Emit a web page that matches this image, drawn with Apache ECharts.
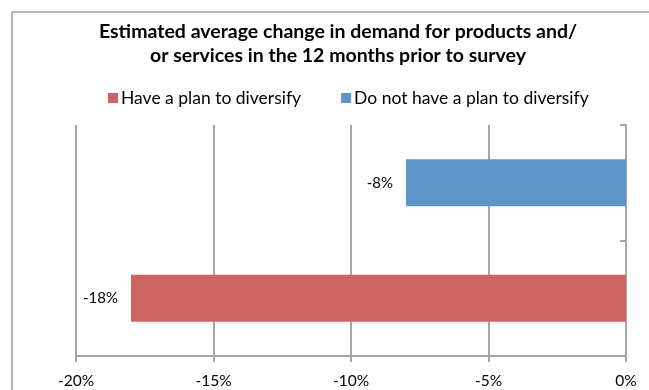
<!DOCTYPE html>
<html>
<head>
<meta charset="utf-8">
<script src="https://cdn.jsdelivr.net/npm/echarts@6/dist/echarts.min.js"></script>
<style>
  html, body { margin: 0; padding: 0; background: #fff; }
  #chart { width: 649px; height: 390px; }
</style>
</head>
<body>
<div id="chart"></div>
<script>
// Survey groups (bottom to top on the category axis)
const categories = ['Have a plan to diversify', 'Do not have a plan to diversify'];
// Estimated average change in demand, in percent
const planValues = [-18, null];
const noPlanValues = [null, -8];
// Value axis range and tick spacing (percent)
const axisMin = -20;
const axisMax = 0;
const axisStep = 5;

const FONT = 'Lato, "Open Sans", sans-serif';
const GRID_COLOR = '#a6a6a6';

const barLabel = {
  show: true,
  position: 'left',
  distance: 13,
  formatter: p => p.value + '%',
  fontFamily: FONT,
  fontSize: 15,
  color: '#000'
};

const chart = echarts.init(document.getElementById('chart'));
chart.setOption({
  animation: false,
  backgroundColor: '#fff',
  textStyle: { fontFamily: FONT },
  graphic: [{
    type: 'rect',
    shape: { x: 12, y: 12, width: 800, height: 600 },
    style: { fill: 'none', stroke: '#a0a0a0', lineWidth: 1.5 },
    silent: true,
    z: -1
  }],
  title: {
    text: 'Estimated average change in demand for products and/\nor services in the 12 months prior to survey',
    left: 333,
    top: 15,
    textAlign: 'center',
    textStyle: {
      fontFamily: FONT,
      fontWeight: 'bold',
      fontSize: 19.5,
      lineHeight: 24,
      color: '#000'
    }
  },
  legend: {
    left: 103,
    top: 84,
    itemWidth: 10,
    itemHeight: 10,
    itemGap: 40,
    icon: 'rect',
    textStyle: { fontFamily: FONT, fontSize: 17.5, color: '#000', padding: [0, 0, 0, -2] },
    data: ['Have a plan to diversify', 'Do not have a plan to diversify']
  },
  grid: { left: 76, right: 23, top: 125, bottom: 34, containLabel: false },
  xAxis: {
    type: 'value',
    min: axisMin,
    max: axisMax,
    interval: axisStep,
    axisLine: { show: true, onZero: false, lineStyle: { color: GRID_COLOR, width: 2 } },
    axisTick: { show: true, length: 6, lineStyle: { color: GRID_COLOR, width: 2 } },
    splitLine: { show: true, lineStyle: { color: GRID_COLOR, width: 2 } },
    axisLabel: {
      formatter: v => v + '%',
      fontFamily: FONT,
      fontSize: 15.5,
      color: '#000',
      margin: 17
    }
  },
  yAxis: {
    type: 'category',
    position: 'right',
    data: categories,
    axisLine: { show: true, lineStyle: { color: GRID_COLOR, width: 2 } },
    axisTick: { show: true, inside: true, length: 6, lineStyle: { color: GRID_COLOR, width: 2 } },
    axisLabel: { show: false },
    splitLine: { show: false }
  },
  series: [
    {
      name: 'Have a plan to diversify',
      type: 'bar',
      data: planValues,
      barWidth: '40.6%',
      barGap: '-100%',
      itemStyle: { color: '#cc6560' },
      label: barLabel
    },
    {
      name: 'Do not have a plan to diversify',
      type: 'bar',
      data: noPlanValues,
      barWidth: '40.6%',
      barGap: '-100%',
      itemStyle: { color: '#5f95c9' },
      label: barLabel
    }
  ]
});
</script>
</body>
</html>
